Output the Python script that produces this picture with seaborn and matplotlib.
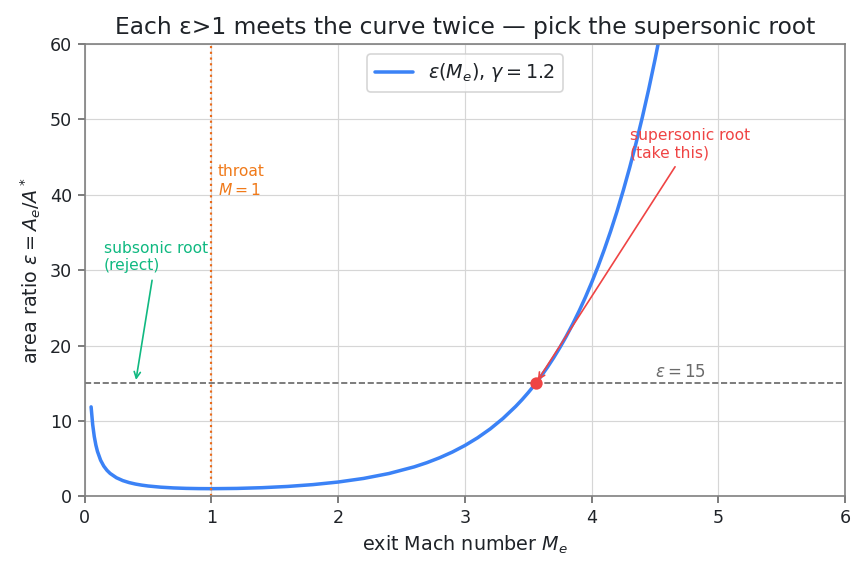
import numpy as np
import pandas as pd
import matplotlib
matplotlib.use("Agg")
import matplotlib.pyplot as plt
import seaborn as sns

# exit Mach number and area ratio (gamma = 1.2)
mach = [0.05, 0.0625, 0.075, 0.0875, 0.1, 0.125, 0.15, 0.175, 0.2, 0.25, 0.3, 0.35,
        0.4, 0.45, 0.5, 0.6, 0.7, 0.8, 0.9, 1.0, 1.2, 1.4, 1.6, 1.8, 2.0, 2.2, 2.4,
        2.6, 2.7, 2.8, 2.9, 3.0, 3.1, 3.2, 3.3, 3.4, 3.45, 3.5, 3.55, 3.6, 3.65, 3.7,
        3.75, 3.8, 3.85, 3.9, 3.95, 4.0, 4.05, 4.1, 4.15, 4.2, 4.25, 4.3, 4.35, 4.4,
        4.45, 4.5, 4.55, 4.6, 4.7]
eps = [11.857, 9.493, 7.918, 6.795, 5.953, 4.777, 3.996, 3.440, 3.026, 2.451, 2.073,
       1.809, 1.615, 1.469, 1.356, 1.199, 1.100, 1.041, 1.010, 1.000, 1.034, 1.132,
       1.296, 1.540, 1.884, 2.360, 3.011, 3.898, 4.455, 5.104, 5.858, 6.736, 7.755,
       8.940, 10.316, 11.911, 12.800, 13.759, 14.790, 15.900, 17.093, 18.375,
       19.755, 21.238, 22.831, 24.543, 26.381, 28.36, 30.474, 32.75, 35.188, 37.80,
       40.611, 43.62, 46.843, 50.30, 53.997, 57.96, 62.199, 66.74, 76.79]

eps_target = 15
throat_mach = 1.0
root_sup = (3.56, 15)
root_sub_arrow = (0.4, 15)

df = pd.DataFrame({"M": mach, "eps": eps})

sns.set_style("whitegrid")
plt.rcParams["font.family"] = ["DejaVu Sans"]
txt = "#1f2328"
plt.rcParams["text.color"] = txt
plt.rcParams["axes.labelcolor"] = txt
plt.rcParams["xtick.color"] = txt
plt.rcParams["ytick.color"] = txt

fig, ax = plt.subplots(figsize=(865 / 120, 573 / 120), dpi=120)
fig.subplots_adjust(left=0.098, right=0.977, top=0.923, bottom=0.134)

sns.lineplot(data=df, x="M", y="eps", ax=ax, color="#3b82f6", lw=2.1,
             label=r"$\varepsilon(M_e)$, $\gamma = 1.2$")
ax.axhline(eps_target, color="#666666", ls="--", lw=1.0)
ax.axvline(throat_mach, color="#ea6a1a", ls=":", lw=1.3)
ax.scatter([root_sup[0]], [root_sup[1]], s=55, color="#ef4444", zorder=5, lw=0)

ax.text(1.05, 40, "throat\n$M=1$", color="#f07a1a", fontsize=9.3)
ax.text(4.5, 15.8, r"$\varepsilon=15$", color="#6b6b6b", fontsize=10)
ax.annotate("subsonic root\n(reject)", xy=root_sub_arrow, xytext=(0.15, 30),
            color="#10b981", fontsize=9.3,
            arrowprops=dict(arrowstyle="->", color="#10b981", lw=1.0))
ax.annotate("supersonic root\n(take this)", xy=root_sup, xytext=(4.3, 45),
            color="#ef4444", fontsize=9.3,
            arrowprops=dict(arrowstyle="->", color="#ef4444", lw=1.0))

ax.set_xlim(0, 6)
ax.set_ylim(0, 60)
ax.set_xlabel("exit Mach number $M_e$", fontsize=11.5)
ax.set_ylabel(r"area ratio $\varepsilon = A_e/A^*$", fontsize=11.5)
ax.set_title("Each ε>1 meets the curve twice — pick the supersonic root", fontsize=14)
ax.tick_params(axis="both", labelsize=10.5, length=4, width=1.0, color="#666666",
               bottom=True, left=True)
for s in ax.spines.values():
    s.set_color("#808080")
    s.set_linewidth(1.0)
ax.grid(color="#d6d6d6", lw=0.7)
ax.legend(loc="upper center", fontsize=11.5)

plt.savefig("out.png", dpi=120)
